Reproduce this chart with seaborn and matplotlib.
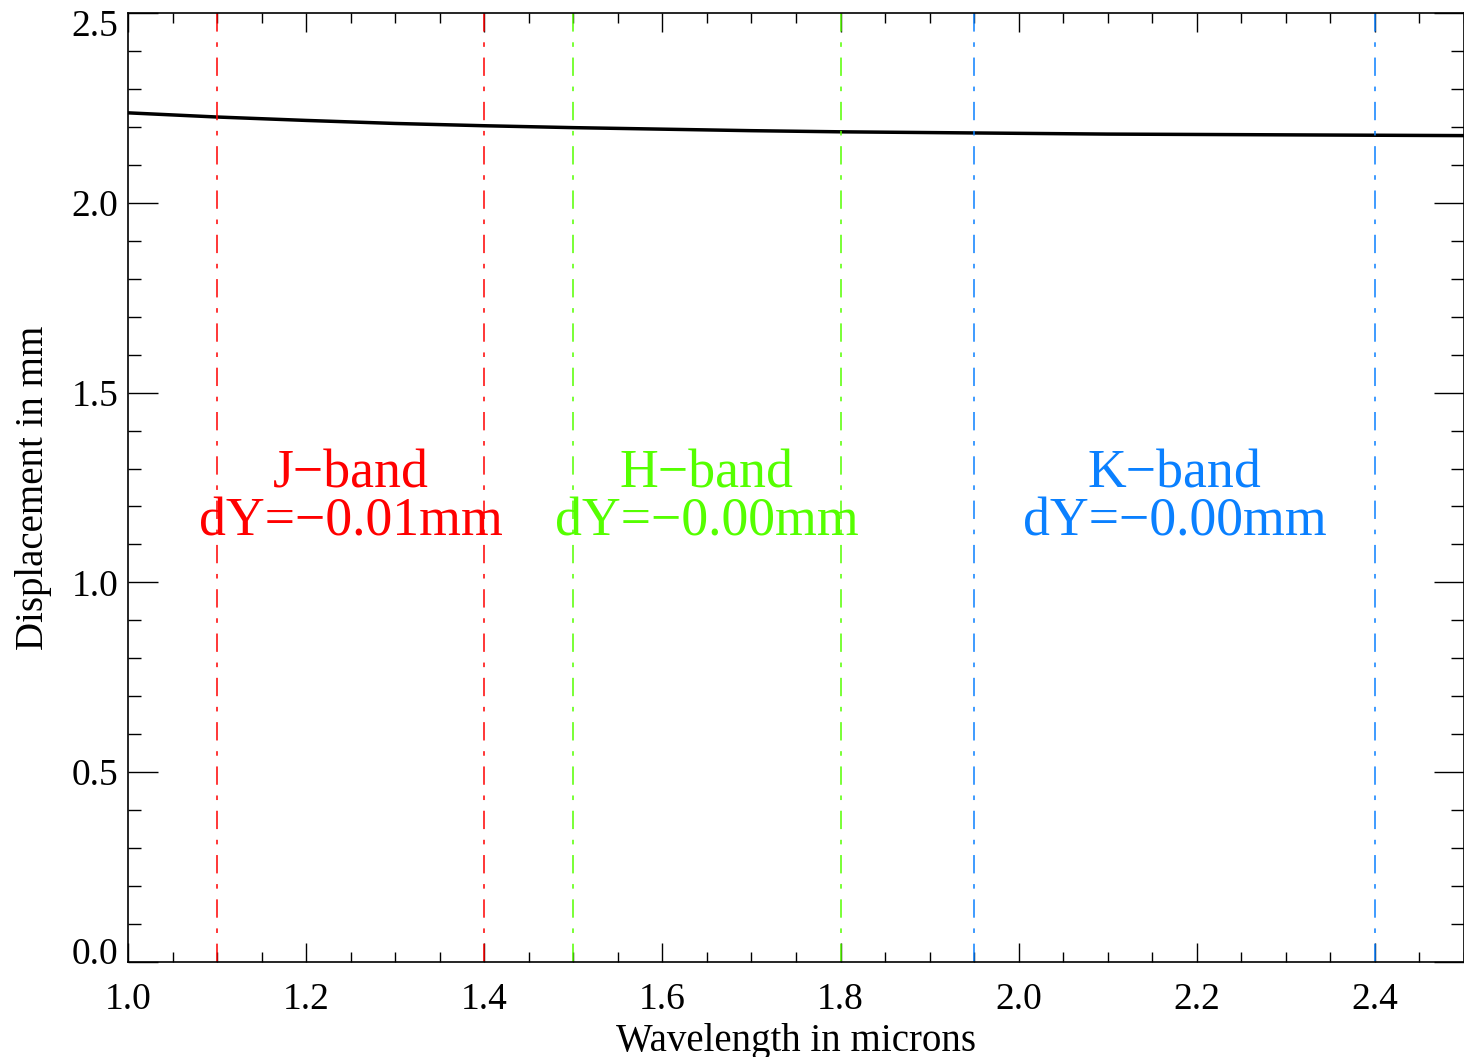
import matplotlib
matplotlib.use("Agg")
import matplotlib.pyplot as plt
import matplotlib.transforms as mtrans
import seaborn as sns
import pandas as pd
from matplotlib.ticker import MultipleLocator

# ---- data ----
wavelength = [1.0, 1.1, 1.2, 1.3, 1.4, 1.5, 1.6, 1.7, 1.8, 1.9, 2.0, 2.1, 2.2, 2.3, 2.4, 2.5]
displacement = [2.237, 2.226, 2.217, 2.209, 2.203, 2.198, 2.194, 2.190, 2.187, 2.185,
                2.183, 2.181, 2.180, 2.179, 2.178, 2.177]

band_names = ["J\u2212band", "H\u2212band", "K\u2212band"]
band_dy = ["dY=\u22120.01mm", "dY=\u22120.00mm", "dY=\u22120.00mm"]
band_lo = [1.1, 1.5, 1.95]
band_hi = [1.4, 1.8, 2.4]
band_colors = ["#ff0000", "#55ff00", "#0a80ff"]

x_ticks = [1.0, 1.2, 1.4, 1.6, 1.8, 2.0, 2.2, 2.4]
y_ticks = [0.0, 0.5, 1.0, 1.5, 2.0, 2.5]

sns.set_style("ticks")
plt.rcParams["font.family"] = ["Liberation Serif", "DejaVu Serif"]
plt.rcParams["text.color"] = "black"
plt.rcParams["axes.labelcolor"] = "black"

fig = plt.figure(figsize=(14.64, 10.57), dpi=100)
ax = fig.add_axes([128 / 1464, 1 - 962 / 1057, 1 - 128 / 1464, (962 - 13) / 1057])

df = pd.DataFrame({"wavelength": wavelength, "displacement": displacement})
sns.lineplot(data=df, x="wavelength", y="displacement", ax=ax, color="black", linewidth=2.5)

dash = (0, (12, 7, 3, 7))
for lo, hi, c, name, dy in zip(band_lo, band_hi, band_colors, band_names, band_dy):
    ax.axvline(lo, color=c, linewidth=1.1, linestyle=dash)
    ax.axvline(hi, color=c, linewidth=1.1, linestyle=dash)
    xc = (lo + hi) / 2
    ax.text(xc, 1.285, name, color=c, fontsize=38.7, ha="center", va="center")
    ax.text(xc, 1.158, dy, color=c, fontsize=38.7, ha="center", va="center")

ax.set_xlim(1.0, 2.5)
ax.set_ylim(0.0, 2.5)
ax.set_xticks(x_ticks)
ax.set_xticklabels([f"{v:.1f}" for v in x_ticks])
ax.set_yticks(y_ticks)
ax.set_yticklabels([f"{v:.1f}" for v in y_ticks])
ax.xaxis.set_minor_locator(MultipleLocator(0.05))
ax.yaxis.set_minor_locator(MultipleLocator(0.1))

ax.tick_params(axis="both", which="both", direction="in", top=True, right=True,
               colors="black", width=1.0, labelsize=27)
ax.tick_params(axis="x", which="major", length=13.5, pad=15)
ax.tick_params(axis="x", which="minor", length=7)
ax.tick_params(axis="y", which="major", length=21.5, pad=7)
ax.tick_params(axis="y", which="minor", length=9.5)

# IDL-style: the end labels of the y axis are pulled inward
ylabels = ax.get_yticklabels()
up = mtrans.ScaledTranslation(0, 0.11, fig.dpi_scale_trans)
down = mtrans.ScaledTranslation(0, -0.095, fig.dpi_scale_trans)
ylabels[0].set_transform(ylabels[0].get_transform() + up)
ylabels[-1].set_transform(ylabels[-1].get_transform() + down)

for sp in ax.spines.values():
    sp.set_visible(True)
    sp.set_color("black")
    sp.set_linewidth(1.2)

ax.set_xlabel("Wavelength in microns", fontsize=28, labelpad=4, color="black")
ax.set_ylabel("Displacement in mm", fontsize=28, labelpad=14, color="black")
ax.grid(False)

fig.savefig("out.png", dpi=100)
